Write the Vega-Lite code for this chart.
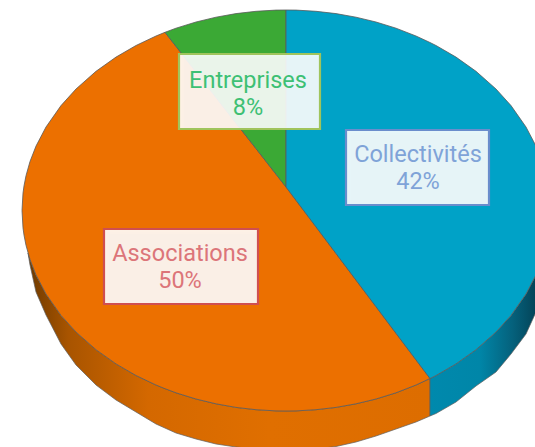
{"$schema":"https://vega.github.io/schema/vega-lite/v6.json","width":535,"height":447,"autosize":{"type":"fit","contains":"padding"},"padding":0,"background":"#ffffff","view":{"stroke":null},
"datasets":{
"orangeWall":[{"x":28,"y":253,"y2":253},{"x":30,"y":259.5,"y2":265},{"x":36,"y":274.9,"y2":292},{"x":46,"y":294,"y2":315},{"x":61,"y":315.4,"y2":344},{"x":76,"y":332,"y2":365},{"x":96,"y":349.7,"y2":385},{"x":116,"y":363.9,"y2":400},{"x":136,"y":375.5,"y2":412},{"x":156,"y":385,"y2":424},{"x":176,"y":392.8,"y2":433},{"x":196,"y":399,"y2":439},{"x":216,"y":403.8,"y2":444},{"x":236,"y":407.4,"y2":447},{"x":256,"y":409.7,"y2":449},{"x":276,"y":410.9,"y2":450},{"x":296,"y":410.9,"y2":451},{"x":316,"y":409.7,"y2":449},{"x":336,"y":407.4,"y2":446.5},{"x":356,"y":403.8,"y2":442},{"x":376,"y":399,"y2":436},{"x":396,"y":392.8,"y2":429},{"x":416,"y":385,"y2":422},{"x":430,"y":378.5,"y2":416}],
"blueWall":[{"x":430,"y":378.5,"y2":416},{"x":436,"y":375.5,"y2":413.5},{"x":456,"y":363.9,"y2":402},{"x":476,"y":349.7,"y2":386},{"x":496,"y":332,"y2":372},{"x":511,"y":315.4,"y2":354},{"x":526,"y":294,"y2":334},{"x":536,"y":274.9,"y2":312},{"x":540,"y":264,"y2":300}],
"slices":[
{"slice":"Associations","x":22,"y":210.5,"y2":210.5},{"slice":"Associations","x":23,"y":193.1,"y2":227.9},{"slice":"Associations","x":24,"y":185.9,"y2":235.1},{"slice":"Associations","x":26,"y":175.7,"y2":245.3},{"slice":"Associations","x":30,"y":161.5,"y2":259.5},{"slice":"Associations","x":36,"y":146.1,"y2":274.9},{"slice":"Associations","x":46,"y":127,"y2":294},{"slice":"Associations","x":61,"y":105.6,"y2":315.4},{"slice":"Associations","x":76,"y":89,"y2":332},{"slice":"Associations","x":96,"y":71.3,"y2":349.7},{"slice":"Associations","x":116,"y":57.1,"y2":363.9},{"slice":"Associations","x":136,"y":45.5,"y2":375.5},{"slice":"Associations","x":156,"y":36,"y2":385},{"slice":"Associations","x":165,"y":32.3,"y2":388.7},{"slice":"Associations","x":176,"y":46.4,"y2":392.8},{"slice":"Associations","x":196,"y":71.9,"y2":399},{"slice":"Associations","x":216,"y":97.5,"y2":403.8},{"slice":"Associations","x":236,"y":123.1,"y2":407.4},{"slice":"Associations","x":256,"y":148.6,"y2":409.7},{"slice":"Associations","x":276,"y":174.2,"y2":410.9},{"slice":"Associations","x":286,"y":187,"y2":411},{"slice":"Associations","x":296,"y":200.3,"y2":410.9},{"slice":"Associations","x":316,"y":226.9,"y2":409.7},{"slice":"Associations","x":336,"y":253.5,"y2":407.4},{"slice":"Associations","x":356,"y":280.1,"y2":403.8},{"slice":"Associations","x":376,"y":306.7,"y2":399},{"slice":"Associations","x":396,"y":333.3,"y2":392.8},{"slice":"Associations","x":416,"y":359.9,"y2":385},{"slice":"Associations","x":430,"y":378.5,"y2":378.5},
{"slice":"Entreprises","x":165,"y":32.3,"y2":32.3},{"slice":"Entreprises","x":176,"y":28.2,"y2":46.4},{"slice":"Entreprises","x":196,"y":22,"y2":71.9},{"slice":"Entreprises","x":216,"y":17.2,"y2":97.5},{"slice":"Entreprises","x":236,"y":13.6,"y2":123.1},{"slice":"Entreprises","x":256,"y":11.3,"y2":148.6},{"slice":"Entreprises","x":276,"y":10.1,"y2":174.2},{"slice":"Entreprises","x":286,"y":10,"y2":187},
{"slice":"Collectivités","x":286,"y":10,"y2":187},{"slice":"Collectivités","x":296,"y":10.1,"y2":200.3},{"slice":"Collectivités","x":316,"y":11.3,"y2":226.9},{"slice":"Collectivités","x":336,"y":13.6,"y2":253.5},{"slice":"Collectivités","x":356,"y":17.2,"y2":280.1},{"slice":"Collectivités","x":376,"y":22,"y2":306.7},{"slice":"Collectivités","x":396,"y":28.2,"y2":333.3},{"slice":"Collectivités","x":416,"y":36,"y2":359.9},{"slice":"Collectivités","x":430,"y":42.5,"y2":378.5},{"slice":"Collectivités","x":436,"y":45.5,"y2":375.5},{"slice":"Collectivités","x":456,"y":57.1,"y2":363.9},{"slice":"Collectivités","x":476,"y":71.3,"y2":349.7},{"slice":"Collectivités","x":496,"y":89,"y2":332},{"slice":"Collectivités","x":511,"y":105.6,"y2":315.4},{"slice":"Collectivités","x":526,"y":127,"y2":294},{"slice":"Collectivités","x":536,"y":146.1,"y2":274.9},{"slice":"Collectivités","x":542,"y":161.5,"y2":259.5},{"slice":"Collectivités","x":546,"y":175.7,"y2":245.3},{"slice":"Collectivités","x":550,"y":210.5,"y2":210.5}],
"labels":[
{"name":"Entreprises","share":0.08,"left":179,"right":320,"top":54,"bottom":129,"cx":248,"nameY":81,"shareY":108},
{"name":"Collectivités","share":0.42,"left":346,"right":489,"top":130,"bottom":205,"cx":418,"nameY":155,"shareY":182},
{"name":"Associations","share":0.5,"left":104,"right":258,"top":229,"bottom":304,"cx":180,"nameY":254,"shareY":281}]},
"encoding":{},
"layer":[
{"data":{"name":"orangeWall"},"mark":{"type":"area","clip":true,"stroke":"#5f5f5f","strokeWidth":0.7,"color":{"gradient":"linear","x1":0,"x2":1,"y1":0,"y2":0,"stops":[{"offset":0,"color":"#6e3a00"},{"offset":0.1,"color":"#a85400"},{"offset":0.3,"color":"#d46800"},{"offset":0.6,"color":"#e06f00"},{"offset":1,"color":"#dd6d00"}]}},
"encoding":{"x":{"field":"x","type":"quantitative","scale":{"domain":[0,535],"nice":false,"zero":false},"axis":null},"y":{"field":"y","type":"quantitative","stack":null,"scale":{"domain":[447,0],"nice":false,"zero":false},"axis":null},"y2":{"field":"y2"}}},
{"data":{"name":"blueWall"},"mark":{"type":"area","clip":true,"stroke":"#5f5f5f","strokeWidth":0.7,"color":{"gradient":"linear","x1":0,"x2":1,"y1":0,"y2":0,"stops":[{"offset":0,"color":"#0089ad"},{"offset":0.45,"color":"#0086a8"},{"offset":0.75,"color":"#05617c"},{"offset":1,"color":"#033f52"}]}},
"encoding":{"x":{"field":"x","type":"quantitative","scale":{"domain":[0,535],"nice":false,"zero":false},"axis":null},"y":{"field":"y","type":"quantitative","stack":null,"scale":{"domain":[447,0],"nice":false,"zero":false},"axis":null},"y2":{"field":"y2"}}},
{"data":{"name":"slices"},"mark":{"type":"area","clip":true,"stroke":"#5a5a5a","strokeWidth":0.8},
"encoding":{"x":{"field":"x","type":"quantitative","scale":{"domain":[0,535],"nice":false,"zero":false},"axis":null},"y":{"field":"y","type":"quantitative","stack":null,"scale":{"domain":[447,0],"nice":false,"zero":false},"axis":null},"y2":{"field":"y2"},"color":{"field":"slice","type":"nominal","legend":null,"scale":{"domain":["Associations","Entreprises","Collectivités"],"range":["#ec7000","#3ba935","#00a2c7"]}}}},
{"data":{"name":"labels"},"mark":{"type":"rect","xOffset":5,"yOffset":5,"color":"#000000","opacity":0.07},"encoding":{"x":{"field":"left","type":"quantitative","scale":{"domain":[0,535],"nice":false,"zero":false},"axis":null},"x2":{"field":"right"},"y":{"field":"top","type":"quantitative","scale":{"domain":[447,0],"nice":false,"zero":false},"axis":null},"y2":{"field":"bottom"}}},
{"data":{"name":"labels"},"mark":{"type":"rect","xOffset":3,"yOffset":3,"color":"#000000","opacity":0.08},"encoding":{"x":{"field":"left","type":"quantitative","scale":{"domain":[0,535],"nice":false,"zero":false},"axis":null},"x2":{"field":"right"},"y":{"field":"top","type":"quantitative","scale":{"domain":[447,0],"nice":false,"zero":false},"axis":null},"y2":{"field":"bottom"}}},
{"data":{"name":"labels"},"mark":{"type":"rect","strokeWidth":2.2,"fillOpacity":0.9},"encoding":{"x":{"field":"left","type":"quantitative","scale":{"domain":[0,535],"nice":false,"zero":false},"axis":null},"x2":{"field":"right"},"y":{"field":"top","type":"quantitative","scale":{"domain":[447,0],"nice":false,"zero":false},"axis":null},"y2":{"field":"bottom"},"fill":{"value":"#ffffff"},"stroke":{"field":"name","type":"nominal","legend":null,"scale":{"domain":["Entreprises","Collectivités","Associations"],"range":["#a0c45c","#6a8dcc","#cf4f50"]}}}},
{"data":{"name":"labels"},"mark":{"type":"text","font":"Roboto","fontSize":23.5,"baseline":"middle","align":"center"},"encoding":{"x":{"field":"cx","type":"quantitative","scale":{"domain":[0,535],"nice":false,"zero":false},"axis":null},"y":{"field":"nameY","type":"quantitative","scale":{"domain":[447,0],"nice":false,"zero":false},"axis":null},"text":{"field":"name","type":"nominal"},"color":{"field":"name","type":"nominal","legend":null,"scale":{"domain":["Entreprises","Collectivités","Associations"],"range":["#3dc074","#7fa3d8","#dc7579"]}}}},
{"data":{"name":"labels"},"mark":{"type":"text","font":"Roboto","fontSize":23.5,"baseline":"middle","align":"center"},"encoding":{"x":{"field":"cx","type":"quantitative","scale":{"domain":[0,535],"nice":false,"zero":false},"axis":null},"y":{"field":"shareY","type":"quantitative","scale":{"domain":[447,0],"nice":false,"zero":false},"axis":null},"text":{"field":"share","type":"quantitative","format":".0%"},"color":{"field":"name","type":"nominal","legend":null,"scale":{"domain":["Entreprises","Collectivités","Associations"],"range":["#3dc074","#7fa3d8","#dc7579"]}}}}
],
"resolve":{"scale":{"color":"independent"}}}
